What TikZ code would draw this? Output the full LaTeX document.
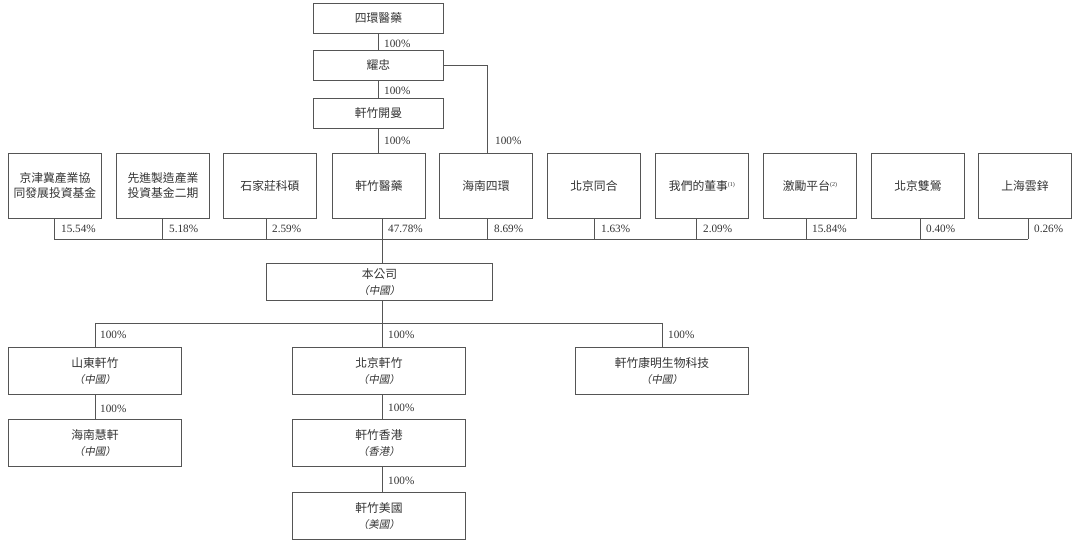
\documentclass[tikz,border=0pt]{standalone}
\usepackage{fontspec}
\usetikzlibrary{calc}
\setmainfont{Liberation Serif}
\newfontfamily\cjk{Noto Sans CJK TC}
\newfontfamily\cjkit{Noto Sans CJK TC}[FakeSlant=0.2]
\definecolor{linegray}{HTML}{555555}
\definecolor{textgray}{HTML}{333333}
\begin{document}
\begin{tikzpicture}[x=1pt,y=-1pt,
  box/.style={draw=linegray, line width=0.9pt, text=textgray, inner sep=0pt, align=center,
    anchor=north west, font=\cjk\fontsize{11.8}{15}\selectfont},
  topbox/.style={box, minimum width=130pt, minimum height=30pt},
  holder/.style={box, minimum width=93pt, minimum height=65pt},
  subbox/.style={box, minimum width=173pt, minimum height=47pt},
  pct/.style={anchor=west, inner sep=0pt, text=textgray, font=\fontsize{11.2}{13}\selectfont},
  conn/.style={draw=linegray, line width=0.9pt}]
\newcommand{\loc}[1]{\\[1pt]{\cjkit\fontsize{10.5}{13}\selectfont （#1）}}
\newcommand{\nt}[1]{{\rmfamily\fontsize{6}{6}\selectfont\raisebox{3.5pt}{(#1)}}}
\useasboundingbox (0,0) rectangle (1080,545);

% top chain
\node[topbox] (sihuan) at (313,3) {四環醫藥};
\node[topbox] (yaozhong) at (313,50) {耀忠};
\node[topbox] (kaiman) at (313,98) {軒竹開曼};

% shareholders
\node[holder] (s1) at (8,153) {京津冀產業協\\同發展投資基金};
\node[holder] (s2) at (116,153) {先進製造產業\\投資基金二期};
\node[holder] (s3) at (223,153) {石家莊科碩};
\node[holder] (s4) at (332,153) {軒竹醫藥};
\node[holder] (s5) at (439,153) {海南四環};
\node[holder] (s6) at (547,153) {北京同合};
\node[holder] (s7) at (655,153) {我們的董事\nt{1}};
\node[holder] (s8) at (763,153) {激勵平台\nt{2}};
\node[holder] (s9) at (871,153) {北京雙鶯};
\node[holder] (s10) at (978,153) {上海雲鋅};

% company
\node[box, minimum width=226pt, minimum height=37pt] (company) at (266,263) {本公司\loc{中國}};

% subsidiaries
\node[subbox] (shandong) at (8,347) {山東軒竹\loc{中國}};
\node[subbox] (beijing) at (292,347) {北京軒竹\loc{中國}};
\node[subbox] (kangming) at (575,347) {軒竹康明生物科技\loc{中國}};
\node[subbox] (huixuan) at (8,419) {海南慧軒\loc{中國}};
\node[subbox] (hk) at (292,419) {軒竹香港\loc{香港}};
\node[subbox] (us) at (292,492) {軒竹美國\loc{美國}};

% top connectors
\draw[conn] (sihuan.south) -- (yaozhong.north);
\draw[conn] (yaozhong.south) -- (kaiman.north);
\draw[conn] (kaiman.south) -- (s4.north -| kaiman.south);
\draw[conn] (yaozhong.east) -| ($(s5.north)+(1.5,0)$);
\node[pct] (t1) at (384,44) {100\%};
\node[pct] (t2) at (384,91) {100\%};
\node[pct] (t3) at (384,141) {100\%};
\node[pct] (t4) at (495,141) {100\%};

% shareholder bus
\coordinate (b1) at (54,239);
\coordinate (b2) at (162,239);
\coordinate (b3) at (266,239);
\coordinate (b4) at (382,239);
\coordinate (b5) at (487,239);
\coordinate (b6) at (594,239);
\coordinate (b7) at (696,239);
\coordinate (b8) at (806,239);
\coordinate (b9) at (920,239);
\coordinate (b10) at (1028,239);
\draw[conn] (b1) -- (b10);
\foreach \i in {1,...,10} {\draw[conn] (s\i.south -| b\i) -- (b\i);}
\draw[conn] (b4) -- (company.north -| b4);
\node[pct] (q1) at (61,229) {15.54\%};
\node[pct] (q2) at (169,229) {5.18\%};
\node[pct] (q3) at (272,229) {2.59\%};
\node[pct] (q4) at (388,229) {47.78\%};
\node[pct] (q5) at (494,229) {8.69\%};
\node[pct] (q6) at (601,229) {1.63\%};
\node[pct] (q7) at (703,229) {2.09\%};
\node[pct] (q8) at (812,229) {15.84\%};
\node[pct] (q9) at (926,229) {0.40\%};
\node[pct] (q10) at (1034,229) {0.26\%};

% subsidiary bus
\coordinate (c1) at (95,323);
\coordinate (c2) at (382,323);
\coordinate (c3) at (662,323);
\draw[conn] (company.south -| c2) -- (c2);
\draw[conn] (c1) -- (c3);
\draw[conn] (c1) -- (shandong.north -| c1);
\draw[conn] (c2) -- (beijing.north -| c2);
\draw[conn] (c3) -- (kangming.north -| c3);
\draw[conn] (shandong.south -| c1) -- (huixuan.north -| c1);
\draw[conn] (beijing.south -| c2) -- (hk.north -| c2);
\draw[conn] (hk.south -| c2) -- (us.north -| c2);
\node[pct] (r1) at (100,335) {100\%};
\node[pct] (r2) at (388,335) {100\%};
\node[pct] (r3) at (668,335) {100\%};
\node[pct] (r4) at (100,409) {100\%};
\node[pct] (r5) at (388,408) {100\%};
\node[pct] (r6) at (388,481) {100\%};
\end{tikzpicture}
\end{document}
